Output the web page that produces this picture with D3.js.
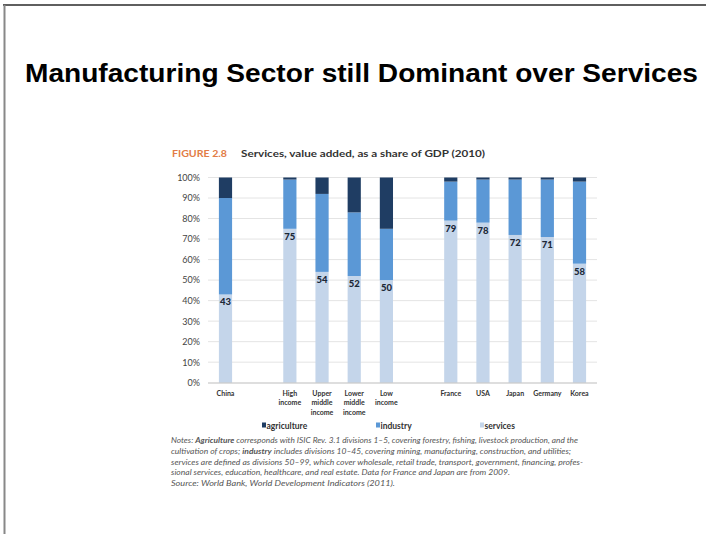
<!DOCTYPE html>
<html>
<head>
<meta charset="utf-8">
<script src="https://cdn.jsdelivr.net/npm/d3@7"></script>
<style>
  html, body { margin: 0; padding: 0; background: #fff; }
  svg { display: block; }
</style>
</head>
<body>
<svg id="chart" width="706" height="534"></svg>
<script>
// ---------- data ----------
const categories = ["China", "", "High income", "Upper middle income", "Lower middle income", "Low income", "", "France", "USA", "Japan", "Germany", "Korea"];
const categoryLines = [["China"], [], ["High", "income"], ["Upper", "middle", "income"], ["Lower", "middle", "income"], ["Low", "income"], [], ["France"], ["USA"], ["Japan"], ["Germany"], ["Korea"]];
const services    = [43, null, 75, 54, 52, 50, null, 79, 78, 72, 71, 58];
const industry    = [47, null, 24, 38, 31, 25, null, 19, 21, 27, 28, 40];
const agriculture = [10, null,  1,  8, 17, 25, null,  2,  1,  1,  1,  2];
const seriesNames = ["services", "industry", "agriculture"];
const legendNames = ["agriculture", "industry", "services"];
const yTicks = [0, 10, 20, 30, 40, 50, 60, 70, 80, 90, 100];
const noteLines = [
  [["Notes: ", false], ["Agriculture", true], [" corresponds with ISIC Rev. 3.1 divisions 1–5, covering forestry, fishing, livestock production, and the", false]],
  [["cultivation of crops; ", false], ["industry", true], [" includes divisions 10–45, covering mining, manufacturing, construction, and utilities;", false]],
  [["services are defined as divisions 50–99, which cover wholesale, retail trade, transport, government, financing, profes-", false]],
  [["sional services, education, healthcare, and real estate. Data for France and Japan are from 2009.", false]],
  [["Source: World Bank, World Development Indicators (2011).", false]]
];
const noteWidths = [407, 400, 412, 339, 224];

// ---------- layout ----------
const colors = { agriculture: "#1f3d63", industry: "#5b98d6", services: "#c4d5ea" };
const svg = d3.select("#chart");

// slide frame
svg.append("line").attr("x1", 3).attr("x2", 706).attr("y1", 5).attr("y2", 5)
  .attr("stroke", "#2a2a2a").attr("stroke-width", 1.5);
svg.append("line").attr("x1", 4.5).attr("x2", 4.5).attr("y1", 5).attr("y2", 534)
  .attr("stroke", "#888").attr("stroke-width", 2);

// slide title
svg.append("text").attr("x", 25).attr("y", 82)
  .attr("font-family", "'Liberation Sans', Arial, sans-serif")
  .attr("font-weight", "bold").attr("font-size", 26.5).attr("fill", "#000")
  .attr("textLength", 673).attr("lengthAdjust", "spacingAndGlyphs")
  .text("Manufacturing Sector still Dominant over Services");

// figure header
const chartFont = "Lato, 'Open Sans', sans-serif";
svg.append("text").attr("x", 172).attr("y", 157)
  .attr("font-family", chartFont).attr("font-weight", "bold").attr("font-size", 9)
  .attr("fill", "#e27c46").attr("textLength", 55).attr("lengthAdjust", "spacingAndGlyphs")
  .text("FIGURE 2.8");
svg.append("text").attr("x", 241).attr("y", 157)
  .attr("font-family", chartFont).attr("font-weight", "bold").attr("font-size", 9)
  .attr("fill", "#333").attr("textLength", 244).attr("lengthAdjust", "spacingAndGlyphs")
  .text("Services, value added, as a share of GDP (2010)");

// scales
const x = d3.scaleBand().domain(d3.range(categories.length))
  .range([209.4, 595.6]).paddingInner(0.59).paddingOuter(0.295);
const y = d3.scaleLinear().domain([0, 100]).range([382.7, 177.5]);

// gridlines
svg.append("g").selectAll("line").data(yTicks.slice(1)).join("line")
  .attr("x1", 208).attr("x2", 597)
  .attr("y1", d => y(d)).attr("y2", d => y(d))
  .attr("stroke", "#e4e4e4").attr("stroke-width", 1);

// y axis labels
const yAxis = d3.axisLeft(y).tickValues(yTicks).tickSize(0).tickPadding(0).tickFormat(d => d + "%");
const yg = svg.append("g").attr("transform", "translate(200,0)").call(yAxis);
yg.select(".domain").remove();
yg.selectAll("text").attr("font-family", chartFont).attr("font-size", 9).attr("fill", "#444");

// stacked bars
const rows = categories.map((c, i) => ({ i, services: services[i], industry: industry[i], agriculture: agriculture[i] }))
  .filter(r => r.services != null);
const stack = d3.stack().keys(seriesNames);
const layers = stack(rows);
svg.append("g").selectAll("g").data(layers).join("g")
  .attr("fill", d => colors[d.key])
  .selectAll("rect").data(d => d).join("rect")
  .attr("x", d => x(d.data.i))
  .attr("width", x.bandwidth())
  .attr("y", d => y(d[1]))
  .attr("height", d => y(d[0]) - y(d[1]));

// x axis line
svg.append("line").attr("x1", 208).attr("x2", 597).attr("y1", 383).attr("y2", 383)
  .attr("stroke", "#bdbdbd").attr("stroke-width", 1);

// value labels
svg.append("g").selectAll("text").data(rows).join("text")
  .attr("x", d => x(d.i) + x.bandwidth() / 2)
  .attr("y", d => y(d.services) + 11)
  .attr("text-anchor", "middle")
  .attr("font-family", chartFont).attr("font-weight", "900").attr("font-size", 9.5)
  .attr("fill", "#1b2838")
  .text(d => d.services);

// x labels
const xl = svg.append("g").selectAll("text").data(categoryLines.map((l, i) => ({ l, i }))).join("text")
  .attr("x", d => x(d.i) + x.bandwidth() / 2)
  .attr("y", 396)
  .attr("text-anchor", "middle")
  .attr("font-family", chartFont).attr("font-weight", "bold").attr("font-size", 7)
  .attr("fill", "#333");
xl.selectAll("tspan").data(d => d.l.map((t, k) => ({ t, k, cx: x(d.i) + x.bandwidth() / 2 }))).join("tspan")
  .attr("x", d => d.cx)
  .attr("dy", d => d.k === 0 ? 0 : 9.3)
  .text(d => d.t);

// legend
const legendX = [262, 376, 480];
const lg = svg.append("g").selectAll("g").data(legendNames).join("g")
  .attr("transform", (d, i) => `translate(${legendX[i]},426)`);
lg.append("rect").attr("x", 0).attr("y", -3.5).attr("width", 4).attr("height", 5)
  .attr("fill", d => colors[d]);
lg.append("text").attr("x", 4.5).attr("y", 2.8)
  .attr("font-family", chartFont).attr("font-weight", "bold").attr("font-size", 8.5)
  .attr("fill", "#333").text(d => d);

// notes
const notes = svg.append("g");
noteLines.forEach((parts, li) => {
  const t = notes.append("text").attr("x", 171).attr("y", 443 + li * 10.8)
    .attr("font-family", chartFont).attr("font-style", "italic").attr("font-size", 7)
    .attr("fill", "#555")
    .attr("textLength", noteWidths[li]).attr("lengthAdjust", "spacingAndGlyphs");
  parts.forEach(([s, b]) => {
    t.append("tspan").attr("font-weight", b ? "bold" : "normal").text(s);
  });
});
</script>
</body>
</html>
